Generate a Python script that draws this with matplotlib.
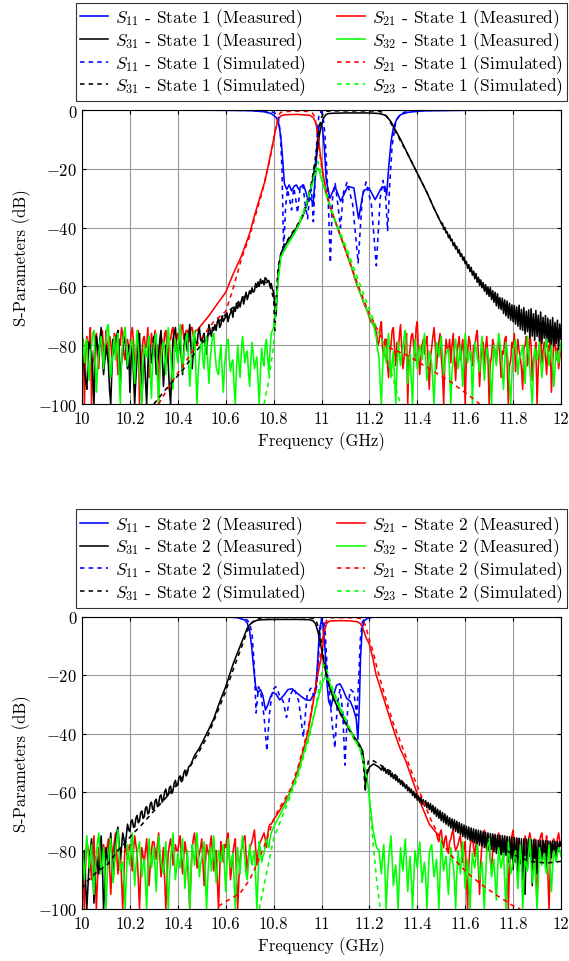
import numpy as np
import matplotlib
matplotlib.use("Agg")
import matplotlib.pyplot as plt

plt.rcParams['font.family'] = 'serif'
plt.rcParams['font.serif'] = ['cmr10']
plt.rcParams['mathtext.fontset'] = 'cm'
plt.rcParams['axes.formatter.use_mathtext'] = True
plt.rcParams['axes.unicode_minus'] = True

# ---------------- axis ticks ----------------
x_ticks = [10, 10.2, 10.4, 10.6, 10.8, 11, 11.2, 11.4, 11.6, 11.8, 12]
x_tick_labels = ['10', '10.2', '10.4', '10.6', '10.8', '11', '11.2', '11.4', '11.6', '11.8', '12']
y_ticks = [0, -20, -40, -60, -80, -100]

# ================= STATE 1 (top) =================
# S11 measured
s1_s11m_f = [10.0, 10.5, 10.7, 10.76, 10.79, 10.81, 10.82, 10.83, 10.838, 10.845, 10.855, 10.865, 10.875,
             10.885, 10.895, 10.905, 10.915, 10.925, 10.935, 10.945, 10.955, 10.965, 10.975, 10.982, 10.99,
             10.997, 11.004, 11.012, 11.02, 11.035, 11.056, 11.08, 11.11, 11.135, 11.155, 11.175, 11.198,
             11.224, 11.25, 11.265, 11.272, 11.28, 11.29, 11.3, 11.315, 11.33, 11.36, 11.42, 11.6, 12.0]
s1_s11m_db = [0, -0.05, -0.2, -0.6, -1.2, -2.5, -4, -9, -17, -25, -27, -25.5, -27.5, -26, -25.5, -27, -26,
              -25.5, -28, -31, -30, -32, -22, -12, -5.5, -4.5, -6, -13, -24, -30, -26, -31, -26, -26.5, -37,
              -27.5, -26.5, -30.5, -26.5, -26, -29, -20, -11, -6, -3, -1.6, -0.8, -0.3, -0.1, 0]
# S11 simulated
s1_s11s_f = [10.0, 10.6, 10.75, 10.79, 10.81, 10.82, 10.828, 10.835, 10.842, 10.85, 10.858, 10.866, 10.875,
             10.884, 10.892, 10.9, 10.91, 10.922, 10.932, 10.942, 10.95, 10.958, 10.966, 10.974, 10.982,
             10.99, 10.998, 11.006, 11.014, 11.022, 11.03, 11.037, 11.046, 11.057, 11.068, 11.079, 11.092,
             11.107, 11.13, 11.153, 11.17, 11.186, 11.208, 11.229, 11.245, 11.257, 11.268, 11.276, 11.285,
             11.295, 11.31, 11.33, 11.36, 11.45, 12.0]
s1_s11s_db = [0, -0.05, -0.2, -0.5, -1.2, -2.5, -8, -20, -48, -33, -27, -30, -34, -26.5, -30, -35, -27, -25.5,
              -32, -37, -29, -27, -38, -22, -8, -1, -0.5, -2, -8, -20, -35, -52, -30, -25, -32, -40, -28,
              -24.5, -32, -52, -30, -24.5, -32, -53, -30, -24, -30, -41, -25, -12, -4, -1.2, -0.4, -0.1, 0]

# S21 measured: noise floor (5 MHz steps), slope/passband, noise floor
s1_s21m_floor_lo = [-82, -78, -100, -84, -77, -80, -79, -74, -100, -86, -84, -78, -76, -81, -88, -79, -78, -75, -81, -85,
                    -75, -80, -86, -77, -79, -84, -83, -76, -77, -82, -90, -78, -80, -74, -76, -83, -85, -79, -78, -81,
                    -81, -76, -74, -79, -88, -83, -79, -75, -100, -87, -83, -78, -77, -81, -80, -74, -91, -84, -76, -79,
                    -79, -75, -84, -80, -100, -86, -77, -79, -81, -76, -75, -82, -86, -78, -78, -75, -74, -80, -82, -77,
                    -76, -80, -79, -74, -73, -78, -77, -75, -75, -79, -78, -74, -74, -77, -76, -75]
s1_s21m_f = [10.48, 10.5, 10.53, 10.56, 10.6, 10.63, 10.666, 10.7, 10.72, 10.74, 10.762, 10.78, 10.8, 10.81,
             10.82, 10.83, 10.85, 10.9, 10.95, 10.965, 10.975, 10.985, 10.995, 11.005, 11.02, 11.04, 11.06,
             11.08, 11.095, 11.11, 11.125, 11.14, 11.15, 11.165, 11.18, 11.19, 11.205, 11.22]
s1_s21m_db = [-75, -73, -70, -66.5, -62, -56, -49.6, -42, -36, -30.5, -24.7, -18, -10, -6, -3, -2, -1.6,
              -1.5, -1.8, -2.5, -4, -8, -15, -21, -28, -34, -38.5, -43, -46.5, -50, -53.5, -57.5, -60,
              -63, -66.5, -68, -72, -73]
s1_s21m_floor_hi = [-76, -80, -79, -74, -72, -81, -84, -78, -78, -86, -91, -83, -80, -75, -74, -81, -87, -79, -82, -77,
                    -73, -81, -88, -84, -79, -76, -100, -85, -81, -77, -76, -80, -85, -74, -72, -83, -90, -84, -80, -78,
                    -83, -79, -77, -86, -95, -84, -81, -77, -74, -80, -88, -82, -79, -76, -84, -89, -100, -85, -78, -81,
                    -82, -78, -86, -80, -76, -84, -92, -83, -80, -77, -85, -81, -78, -86, -100, -84, -83, -77, -79, -85,
                    -87, -80, -81, -77, -75, -83, -94, -85, -82, -79, -88, -81, -77, -84, -100, -86, -84, -78, -80, -83,
                    -86, -80, -79, -84, -91, -82, -83, -78, -77, -85, -100, -87, -85, -79, -81, -76, -89, -83, -78, -82,
                    -84, -88, -95, -81, -80, -77, -87, -83, -76, -80, -92, -85, -83, -79, -100, -88, -81, -77, -86, -82,
                    -79, -84, -90, -80, -82, -78, -96, -86, -80, -77, -85, -81, -88, -84, -82]
# S21 simulated
s1_s21s_f = [10.32, 10.36, 10.4, 10.45, 10.5, 10.55, 10.6, 10.63, 10.666, 10.7, 10.72, 10.74, 10.76, 10.78,
             10.8, 10.81, 10.82, 10.83, 10.85, 10.9, 10.95, 10.96, 10.97, 10.98, 10.99, 11.0, 11.02, 11.04,
             11.08, 11.11, 11.15, 11.19, 11.22, 11.27, 11.36, 11.45, 11.54, 11.63, 11.66]
s1_s21s_db = [-100, -94.5, -89.5, -83.5, -77.5, -72, -68.5, -61, -50.5, -43, -37, -31.5, -25.5, -18.5, -10.5,
              -5.5, -1.8, -0.8, -0.5, -0.4, -0.5, -0.8, -2, -6, -13, -19, -28, -34, -43, -50, -59, -67.5,
              -72.5, -80.5, -83.5, -88, -92.5, -98, -100]

# S31 measured: floor, hump, passband, noisy decay
s1_s31m_floor = [-76, -84, -88, -92, -95, -85, -79, -81, -82, -90, -100, -86, -77, -80, -84, -78, -74, -83, -90, -85,
                 -80, -83, -86, -95, -100, -88, -78, -81, -83, -77, -75, -82, -92, -86, -81, -79, -77, -83, -88, -80,
                 -96, -85, -80, -90, -100, -91, -84, -79, -76, -88, -99, -89, -82, -92, -100, -87, -79, -81, -86, -83,
                 -77, -82, -90, -86, -83, -78, -75, -84, -94, -87, -80, -83, -86, -95, -100, -88, -78, -76, -74, -80,
                 -85, -81, -79, -84, -90, -82, -76, -79, -82, -77, -73, -80, -88, -82, -77, -79, -80, -76, -74, -78,
                 -79, -77, -76, -80, -83, -77, -73, -75, -77, -74, -75, -73]
s1_s31m_hump = [-75, -72, -71, -74, -73, -70, -72, -71, -70.5, -69, -72, -70, -69, -68, -70.5, -67, -68.5, -66, -67.5, -65.5,
                -67, -65, -63.5, -66, -64, -62, -64.5, -63, -61.5, -62.5, -60.5, -62, -61.5, -59, -60, -58.5, -60, -57.5, -59, -58,
                -59.5, -57, -57.5, -58.5, -58, -60, -59, -61]
s1_s31m_f = [10.8, 10.805, 10.81, 10.815, 10.82, 10.83, 10.84, 10.86, 10.88, 10.9, 10.92, 10.94, 10.96,
             10.975, 10.99, 11.0, 11.01, 11.02, 11.03, 11.05, 11.1, 11.2, 11.24, 11.26, 11.27, 11.29, 11.31,
             11.33, 11.36, 11.4, 11.44, 11.47, 11.5]
s1_s31m_db = [-62, -66, -70, -62, -55, -49, -47, -44.5, -42, -39.5, -36.5, -32, -25, -18, -9, -5, -2.5, -1.5,
              -1.2, -1.1, -1.0, -1.0, -1.2, -1.6, -2, -4, -7, -10, -15, -21.5, -28, -33.5, -38.5]
s1_s31m_decay = [-38.5, -40.6, -39.9, -41.8, -41.5, -43.4, -42.5, -44.5, -44.0, -46.1, -45.2, -47.3, -46.4, -48.6, -47.5, -49.8, -48.9, -51.0, -50.0, -52.3,
                 -51.5, -53.8, -52.6, -55.0, -53.5, -56.2, -54.8, -57.4, -55.6, -58.6, -56.9, -59.7, -57.8, -60.5, -58.7, -61.6, -59.4, -62.7, -60.2, -63.4,
                 -60.4, -64.5, -61.5, -65.4, -62.0, -66.6, -62.5, -67.5, -63.8, -67.9, -64.0, -69.2, -64.6, -70.0, -65.0, -70.8, -65.7, -71.5, -66.3, -72.0,
                 -66.5, -72.8, -67.0, -73.5, -66.4, -74.6, -67.8, -75.0, -67.2, -76.2, -68.5, -75.4, -68.0, -77.5, -67.6, -76.9, -69.3, -78.4, -68.2, -77.0,
                 -69.8, -78.8, -68.7, -79.5, -70.5, -77.6, -69.9, -80.4, -70.8, -79.0, -71.4, -81.0, -70.6, -80.2, -72.3, -79.4, -71.5, -81.5, -72.8, -78.0]
# S31 simulated
s1_s31s_f = [10.3, 10.35, 10.42, 10.5, 10.56, 10.6, 10.65, 10.7, 10.75, 10.78, 10.8, 10.805, 10.81, 10.815,
             10.82, 10.83, 10.84, 10.86, 10.88, 10.9, 10.92, 10.94, 10.96, 10.975, 10.99, 11.0, 11.01, 11.02,
             11.05, 11.1, 11.2, 11.24, 11.26, 11.275, 11.29, 11.31, 11.33, 11.36, 11.4, 11.44, 11.47, 11.5,
             11.54, 11.61, 11.68, 11.75, 11.83, 11.9, 11.97, 12.0]
s1_s31s_db = [-100, -95, -88.5, -79.5, -73, -69.5, -65.5, -62, -59, -58.5, -64, -75, -66, -58, -53, -49,
              -46.5, -44, -41.5, -39, -36, -31, -24, -16, -6, -2.5, -0.8, -0.4, -0.3, -0.3, -0.3, -0.4, -1,
              -2.5, -4.5, -7.5, -10.5, -15, -21.5, -28, -33.5, -38.5, -44, -53, -60, -65.5, -70, -72, -74.5,
              -75.5]

# S32 measured
s1_s32m_floor_lo = [-74, -81, -86, -79, -78, -88, -92, -84, -80, -76, -75, -85, -96, -88, -83, -79, -77, -82, -88, -80,
                    -79, -74, -73, -84, -91, -86, -81, -77, -85, -80, -76, -90, -100, -85, -80, -76, -74, -81, -87, -83,
                    -82, -79, -78, -86, -93, -82, -75, -81, -88, -94, -100, -86, -80, -83, -84, -79, -77, -89, -98, -85,
                    -81, -77, -76, -90, -100, -89, -85, -80, -79, -84, -90, -80, -74, -79, -83, -90, -95, -84, -78, -82,
                    -86, -78, -73, -82, -89, -83, -80, -77, -76, -86, -94, -87, -82, -77, -75, -88, -100, -90, -84, -80,
                    -79, -85, -88, -80, -77, -86, -93, -85, -81, -77, -76, -82, -87, -89, -90, -84, -80, -89, -96, -87,
                    -83, -79, -78, -85, -89, -86, -85, -94, -100, -88, -80, -86, -91, -83, -77, -81, -86, -83, -82, -89,
                    -94, -85, -79, -83, -88, -86, -84, -92, -100, -89, -81, -85, -87, -80, -78, -84, -90, -82, -76, -75]
s1_s32m_f = [10.8, 10.81, 10.82, 10.83, 10.85, 10.88, 10.9, 10.93, 10.95, 10.97, 10.98, 10.985, 10.99, 11.0,
             11.02, 11.04, 11.06, 11.08, 11.1, 11.12, 11.14, 11.16, 11.18, 11.2, 11.22]
s1_s32m_db = [-74, -66, -57, -50, -47, -43, -40, -34, -28.5, -23, -20.5, -19.8, -20.5, -23.5, -29, -34,
              -38.5, -43, -47, -52, -57, -62, -66, -70, -74]
s1_s32m_floor_hi = [-78, -82, -84, -93, -100, -88, -80, -83, -86, -80, -76, -84, -91, -86, -82, -91, -100, -88, -79, -83,
                    -87, -83, -81, -77, -75, -85, -93, -88, -83, -92, -100, -86, -78, -83, -88, -83, -80, -82, -85, -80,
                    -76, -84, -92, -87, -82, -84, -86, -93, -100, -88, -79, -81, -84, -80, -77, -83, -90, -86, -83, -82,
                    -81, -90, -100, -89, -85, -81, -78, -83, -88, -84, -80, -87, -94, -84, -76, -81, -86, -84, -82, -83,
                    -100, -88, -79, -81, -84, -86, -89, -82, -77, -85, -92, -86, -81, -83, -85, -92, -100, -88, -80, -82,
                    -87, -81, -76, -79, -83, -89, -95, -86, -79, -82, -86, -93, -100, -90, -82, -80, -78, -84, -90, -85,
                    -84, -82, -80, -86, -93, -84, -77, -82, -88, -94, -100, -89, -81, -83, -85, -82, -79, -85, -91, -86,
                    -83, -80, -78, -82, -87, -83, -80, -86, -94, -88, -82, -84, -86, -82, -79]
# S23 simulated
s1_s23s_f = [10.76, 10.78, 10.8, 10.81, 10.82, 10.83, 10.86, 10.9, 10.94, 10.97, 10.985, 11.0, 11.02, 11.05,
             11.1, 11.15, 11.2, 11.25, 11.29, 11.33]
s1_s23s_db = [-100, -92, -80, -68, -57, -50, -45.5, -40, -31, -22, -17.5, -22, -28.5, -36, -46, -57, -68, -78,
              -89, -100]

# ================= STATE 2 (bottom) =================
s2_s11m_f = [10.0, 10.5, 10.6, 10.65, 10.68, 10.69, 10.7, 10.708, 10.716, 10.725, 10.735, 10.745, 10.755,
             10.766, 10.777, 10.787, 10.797, 10.81, 10.825, 10.842, 10.86, 10.877, 10.895, 10.918, 10.935,
             10.953, 10.965, 10.975, 10.985, 10.992, 11.0, 11.007, 11.014, 11.022, 11.03, 11.04, 11.05,
             11.063, 11.077, 11.09, 11.105, 11.12, 11.133, 11.145, 11.152, 11.158, 11.163, 11.17, 11.178,
             11.19, 11.21, 11.25, 11.4, 12.0]
s2_s11m_db = [0, -0.05, -0.15, -0.4, -1.2, -2.3, -5, -10, -17, -24, -26, -25, -27, -32, -30, -27.5, -26,
              -26.5, -28.5, -27, -25, -24.7, -26, -27.5, -28.5, -28.7, -27, -26, -14, -4, -1.5, -3, -10, -22,
              -29, -31, -27, -23.5, -23, -25, -28, -29, -31.5, -35, -42, -30, -14, -4, -1.5, -0.7, -0.3,
              -0.1, -0.03, 0]
s2_s11s_f = [10.0, 10.6, 10.66, 10.69, 10.7, 10.71, 10.718, 10.727, 10.737, 10.748, 10.76, 10.772, 10.783,
             10.795, 10.81, 10.825, 10.84, 10.854, 10.868, 10.885, 10.905, 10.924, 10.94, 10.955, 10.968,
             10.98, 10.99, 11.0, 11.008, 11.016, 11.025, 11.035, 11.045, 11.056, 11.066, 11.077, 11.088,
             11.098, 11.11, 11.122, 11.135, 11.147, 11.155, 11.162, 11.17, 11.18, 11.2, 11.3, 12.0]
s2_s11s_db = [0, -0.05, -0.3, -1.2, -2.5, -6, -15, -33, -24, -27, -34, -46, -33, -25, -24, -27, -29, -34.5,
              -27, -24.5, -29, -41.3, -27, -24.5, -27, -24, -10, -0.5, -1, -6, -20, -28, -37, -45, -30, -25,
              -32, -50.8, -30, -25, -26, -34, -22, -8, -2, -0.6, -0.2, -0.05, 0]

s2_s21m_floor_lo = [-84, -92, -100, -86, -77, -79, -81, -85, -90, -82, -75, -88, -100, -89, -79, -82, -86, -80, -78, -81,
                    -82, -79, -76, -85, -95, -87, -80, -77, -74, -81, -88, -83, -79, -90, -100, -88, -77, -80, -83, -79,
                    -78, -82, -87, -80, -75, -78, -81, -90, -100, -88, -79, -82, -84, -80, -76, -84, -92, -85, -80, -77,
                    -77, -80, -83, -78, -74, -82, -89, -84, -79, -90, -100, -89, -81, -78, -76, -80, -85, -81, -78, -80,
                    -80, -77, -75, -82, -88, -82, -77, -80, -83, -91, -100, -88, -79, -76, -74, -80, -86, -83, -81, -79,
                    -76, -84, -92, -85, -78, -80, -82, -78, -75, -81, -87, -83, -80, -90, -100, -87, -77, -80, -84, -78,
                    -79, -76, -74, -82, -90, -86, -81, -78, -76, -88, -100, -90, -83, -80, -78, -76, -75, -81, -88, -82,
                    -80, -78, -77, -75, -73, -79, -85, -81, -78, -77, -76, -75, -74, -76, -79, -75, -72, -71]
s2_s21m_f = [10.79, 10.8, 10.82, 10.85, 10.87, 10.9, 10.92, 10.944, 10.96, 10.972, 10.985, 11.0, 11.007,
             11.014, 11.021, 11.028, 11.04, 11.08, 11.12, 11.15, 11.163, 11.17, 11.177, 11.185, 11.2, 11.215,
             11.227, 11.25, 11.27, 11.29, 11.31, 11.33, 11.35, 11.365, 11.38, 11.395, 11.41, 11.43, 11.45, 11.47]
s2_s21m_db = [-71, -69.5, -67, -63, -60, -53, -47, -39.5, -32, -26, -19.5, -13.6, -9, -4.5, -2.5, -1.8, -1.5,
              -1.4, -1.5, -1.8, -2.5, -3.5, -5, -7, -9.5, -14.5, -19.6, -25.5, -30.8, -36, -41, -45.5, -49,
              -52.5, -56, -59.5, -63, -67, -71, -73]
s2_s21m_floor_hi = [-74, -76, -77, -74, -73, -77, -79, -76, -75, -79, -81, -77, -76, -74, -73, -78, -80, -79, -78, -76,
                    -75, -80, -84, -79, -77, -88, -100, -85, -79, -76, -74, -79, -82, -78, -76, -86, -95, -84, -78, -76,
                    -73, -77, -80, -78, -77, -83, -86, -80, -75, -77, -79, -76, -74, -79, -81, -77, -76, -79, -78, -76,
                    -100, -86, -77, -75, -73, -79, -83, -80, -76, -78, -79, -84, -90, -81, -75, -77, -78, -76, -74, -77,
                    -80, -78, -76, -88, -98, -84, -77, -75, -74, -78, -82, -79, -75, -87, -100, -86, -78, -77, -76, -78,
                    -79, -76, -74, -77, -78]
s2_s21s_f = [10.57, 10.6, 10.66, 10.7, 10.72, 10.76, 10.8, 10.82, 10.85, 10.87, 10.9, 10.92, 10.944, 10.96,
             10.972, 10.985, 11.0, 11.01, 11.02, 11.03, 11.05, 11.1, 11.15, 11.165, 11.175, 11.183, 11.19,
             11.2, 11.215, 11.23, 11.25, 11.275, 11.3, 11.33, 11.36, 11.385, 11.42, 11.454, 11.49,
             11.525, 11.56, 11.6, 11.665, 11.735, 11.8, 11.83]
s2_s21s_db = [-99, -97.5, -94.6, -90, -86.6, -78.7, -69.5, -66, -62, -59, -52, -46, -38.5, -31, -25, -18.5,
              -11, -5, -1.5, -0.6, -0.4, -0.4, -0.5, -0.8, -1.5, -3, -5, -8, -12, -17, -23, -30, -36.5,
              -43, -49.5, -55, -62, -69, -75, -80, -83.5, -87, -91.5, -95.5, -98.9, -100]

s2_s31m_floor = [-95, -88, -80, -91, -100, -92, -84, -80, -76, -86, -98, -90, -82, -85, -88, -81, -75, -84, -100, -93,
                 -79, -82, -85, -80, -74, -81, -90, -84, -77, -74, -72, -78, -83, -79, -74, -76, -79, -75]
s2_s31m_rise = [-71, -73, -73.5, -70, -69.5, -72, -72, -69, -68, -70.5, -70, -67, -66.5, -69, -68.5, -65.5, -65, -67.5, -67, -64,
                -63.5, -66, -66, -63, -62.5, -65, -64, -61.5, -61, -63.5, -62.5, -60, -59, -61.5, -61, -58.5, -58, -60.5, -59.5, -57,
                -56, -58, -57.5, -55, -54.5, -56.5, -56, -53.5, -52.5, -54.5, -53.5, -51.5, -51, -50.5]
s2_s31m_f = [10.47, 10.49, 10.527, 10.55, 10.576, 10.6, 10.632, 10.666, 10.69, 10.7, 10.715, 10.73, 10.75,
             10.8, 10.9, 10.95, 10.965, 10.975, 10.986, 10.993, 11.0, 11.01, 11.02, 11.035, 11.05, 11.077,
             11.105, 11.133, 11.16, 11.172, 11.178, 11.183, 11.19, 11.2, 11.217, 11.24]
s2_s31m_db = [-47.5, -45, -39, -35, -29, -24, -16, -9, -4, -2.8, -1.8, -1.3, -1.1, -1.0, -1.0, -1.1, -1.5,
              -2.5, -5.5, -8, -11, -15.5, -20, -24.5, -28, -32.8, -37, -40.7, -44, -46, -50, -58, -54, -51.5,
              -50.4, -51.5]
s2_s31m_decay = [-52.5, -51.2, -52.8, -51.8, -53.6, -52.4, -54.0, -53.1, -54.8, -53.5, -55.4, -54.2, -56.0, -54.9, -56.6, -55.5, -57.4, -56.2, -58.0, -57.1,
                 -58.7, -57.5, -59.6, -58.4, -60.2, -59.0, -61.2, -59.8, -62.0, -60.5, -62.8, -61.4, -63.5, -61.8, -64.2, -62.6, -64.8, -63.0, -65.4, -63.6,
                 -66.0, -64.0, -66.8, -64.6, -67.5, -65.2, -68.3, -65.9, -69.0, -66.4, -69.8, -67.0, -70.4, -67.5, -71.0, -68.2, -71.6, -68.8, -72.3, -69.2,
                 -72.8, -69.5, -73.5, -70.0, -74.0, -70.4, -74.6, -70.9, -75.2, -71.3, -75.6, -71.7, -76.1, -72.0, -76.5, -72.3, -77.0, -72.6, -77.4, -72.9,
                 -77.8, -73.1, -78.2, -73.3, -78.5, -73.6, -79.0, -73.8, -79.3, -74.0, -80.0, -74.2, -79.6, -74.3, -80.4, -74.5, -81.0, -74.7, -80.5, -74.8,
                 -81.5, -74.9, -82.5, -75.0, -81.6, -75.2, -84.0, -75.3, -82.8, -75.5, -86.5, -75.6, -84.0, -75.7, -88.0, -75.8, -84.5, -76.0, -90.0, -76.0,
                 -95.0, -76.1, -86.0, -76.2, -82.0, -76.3, -92.0, -76.4, -83.0, -76.4, -88.0, -76.5, -82.5, -76.6, -84.0, -76.6, -81.0, -76.7, -86.0, -76.7,
                 -80.5, -76.8, -82.5, -76.8, -81.0, -76.9, -83.5, -76.9, -80.0, -77.0, -78.5]
s2_s31s_f = [10.0, 10.025, 10.06, 10.108, 10.15, 10.177, 10.21, 10.246, 10.3, 10.35, 10.4, 10.45, 10.49,
             10.527, 10.576, 10.6, 10.632, 10.666, 10.69, 10.71, 10.73, 10.75, 10.8, 10.95, 10.97, 10.98,
             10.99, 11.0, 11.01, 11.02, 11.035, 11.05, 11.077, 11.105, 11.133, 11.16, 11.17, 11.177, 11.182,
             11.188, 11.195, 11.21, 11.24, 11.3, 11.35, 11.4, 11.45, 11.5, 11.55, 11.6, 11.65, 11.735, 11.8,
             11.87, 11.94, 12.0]
s2_s31s_db = [-93, -90.3, -87.5, -84.6, -80, -77.7, -74.5, -71.5, -66.5, -62, -57, -51.5, -46, -40.5, -30.5,
              -25.5, -18, -10.5, -5, -2, -0.8, -0.4, -0.3, -0.4, -0.8, -2, -4.5, -9, -14.5, -20, -24.5, -28,
              -33, -37.5, -41, -44.5, -47, -52, -60, -55, -49.5, -49, -50.5, -53.5, -57.5, -62, -65, -68.5,
              -71, -73, -75, -78, -81.4, -83.7, -84.3, -83.7]

s2_s32m_floor_lo = [-80, -84, -90, -82, -75, -80, -86, -82, -78, -88, -95, -86, -82, -77, -74, -81, -88, -84, -79, -85,
                    -100, -90, -83, -79, -76, -84, -91, -86, -80, -76, -73, -80, -87, -85, -84, -90, -100, -89, -78, -82,
                    -85, -79, -74, -83, -92, -86, -81, -79, -77, -83, -89, -85, -83, -91, -100, -88, -76, -81, -86, -83,
                    -79, -86, -94, -84, -75, -80, -84, -86, -88, -82, -77, -89, -100, -90, -82, -79, -74, -82, -90, -86,
                    -81, -84, -86, -80, -76, -85, -93, -86, -80, -88, -100, -89, -78, -81, -85, -80, -74, -81, -89, -85,
                    -83, -80, -77, -88, -100, -90, -82, -79, -87, -83, -75, -82, -91, -86, -80, -82, -84, -81, -78, -86,
                    -94, -85, -76, -81, -86, -83, -81, -90, -100, -88, -79, -84, -88, -81, -75, -79, -83, -88, -90, -84,
                    -78, -82, -85, -82, -80, -89, -100, -90, -77, -80, -84, -82, -81, -78, -76, -78, -79, -76]
s2_s32m_f = [10.79, 10.8, 10.85, 10.9, 10.95, 10.98, 11.0, 11.015, 11.03, 11.05, 11.09, 11.133, 11.16,
             11.175, 11.19, 11.2, 11.215, 11.23]
s2_s32m_db = [-74, -72, -64, -54, -40, -30, -23.5, -20.5, -22, -26.5, -33.5, -41.5, -45, -50, -55, -62, -73,
              -79]
s2_s32m_floor_hi = [-80, -84, -88, -82, -78, -88, -100, -90, -83, -79, -75, -83, -92, -88, -85, -91, -100, -89, -79, -84,
                    -87, -81, -76, -85, -94, -87, -82, -90, -100, -90, -80, -83, -86, -81, -77, -84, -91, -87, -84, -89,
                    -100, -90, -81, -79, -78, -84, -89, -86, -83, -90, -100, -88, -76, -82, -87, -84, -82, -89, -95, -86,
                    -79, -83, -85, -90, -100, -88, -80, -84, -88, -82, -77, -85, -93, -87, -83, -91, -100, -89, -81, -84,
                    -86, -82, -78, -84, -90, -86, -84, -92, -100, -89, -80, -78, -76, -83, -89, -86, -83, -90, -97, -87,
                    -79, -83, -86, -83, -81, -90, -100, -88, -77, -82, -88, -86, -84, -82, -80, -86, -93, -85, -78, -84,
                    -100, -90, -82, -85, -87, -81, -76, -83, -91, -87, -83, -91, -100, -89, -79, -82, -85, -83, -81, -86,
                    -88, -83, -78, -86, -94, -86, -80, -82, -84, -81, -79, -80, -82]
s2_s23s_f = [10.74, 10.77, 10.8, 10.85, 10.9, 10.95, 10.98, 11.0, 11.01, 11.02, 11.03, 11.05, 11.09, 11.133,
             11.16, 11.175, 11.19, 11.2, 11.215, 11.23, 11.245]
s2_s23s_db = [-100, -88, -76, -65.5, -55, -41, -29, -20, -16.5, -17.5, -20.5, -25.5, -33, -41, -45, -49.5,
              -56, -63, -77, -90, -100]


def steps(f0, vals):
    # noisy stretches of the measured traces are read at a 5 MHz spacing
    return np.round(f0 + 0.005 * np.arange(len(vals)), 4)


def join(*parts):
    f = np.concatenate([np.asarray(p[0], float) for p in parts])
    d = np.concatenate([np.asarray(p[1], float) for p in parts])
    return f, d


top = {
    's11m': (np.array(s1_s11m_f), np.array(s1_s11m_db)),
    's21m': join((steps(10.0, s1_s21m_floor_lo), s1_s21m_floor_lo), (s1_s21m_f, s1_s21m_db),
                 (steps(11.23, s1_s21m_floor_hi), s1_s21m_floor_hi)),
    's31m': join((steps(10.0, s1_s31m_floor), s1_s31m_floor), (steps(10.56, s1_s31m_hump), s1_s31m_hump),
                 (s1_s31m_f, s1_s31m_db), (steps(11.505, s1_s31m_decay), s1_s31m_decay)),
    's32m': join((steps(10.0, s1_s32m_floor_lo), s1_s32m_floor_lo), (s1_s32m_f, s1_s32m_db),
                 (steps(11.23, s1_s32m_floor_hi), s1_s32m_floor_hi)),
    's11s': (np.array(s1_s11s_f), np.array(s1_s11s_db)),
    's21s': (np.array(s1_s21s_f), np.array(s1_s21s_db)),
    's31s': (np.array(s1_s31s_f), np.array(s1_s31s_db)),
    's23s': (np.array(s1_s23s_f), np.array(s1_s23s_db)),
}
bottom = {
    's11m': (np.array(s2_s11m_f), np.array(s2_s11m_db)),
    's21m': join((steps(10.0, s2_s21m_floor_lo), s2_s21m_floor_lo), (s2_s21m_f, s2_s21m_db),
                 (steps(11.48, s2_s21m_floor_hi), s2_s21m_floor_hi)),
    's31m': join((steps(10.0, s2_s31m_floor), s2_s31m_floor), (steps(10.19, s2_s31m_rise), s2_s31m_rise),
                 (s2_s31m_f, s2_s31m_db), (steps(11.25, s2_s31m_decay), s2_s31m_decay)),
    's32m': join((steps(10.0, s2_s32m_floor_lo), s2_s32m_floor_lo), (s2_s32m_f, s2_s32m_db),
                 (steps(11.24, s2_s32m_floor_hi), s2_s32m_floor_hi)),
    's11s': (np.array(s2_s11s_f), np.array(s2_s11s_db)),
    's21s': (np.array(s2_s21s_f), np.array(s2_s21s_db)),
    's31s': (np.array(s2_s31s_f), np.array(s2_s31s_db)),
    's23s': (np.array(s2_s23s_f), np.array(s2_s23s_db)),
}

blue, red, black, green = '#0000ff', '#ff0000', '#000000', '#00ff00'
dash = (0, (2.8, 2.6))
lw = 1.15
fs = 12
fs_leg = 12.5


def draw(ax, d, state):
    h = {}
    h['s11m'], = ax.plot(*d['s11m'], color=blue, lw=lw, label=r'$S_{11}$ - State %d (Measured)' % state)
    h['s21m'], = ax.plot(*d['s21m'], color=red, lw=lw, label=r'$S_{21}$ - State %d (Measured)' % state)
    h['s31m'], = ax.plot(*d['s31m'], color=black, lw=lw, label=r'$S_{31}$ - State %d (Measured)' % state)
    h['s32m'], = ax.plot(*d['s32m'], color=green, lw=lw, label=r'$S_{32}$ - State %d (Measured)' % state)
    h['s11s'], = ax.plot(*d['s11s'], color=blue, lw=lw, ls=dash, label=r'$S_{11}$ - State %d (Simulated)' % state)
    h['s21s'], = ax.plot(*d['s21s'], color=red, lw=lw, ls=dash, label=r'$S_{21}$ - State %d (Simulated)' % state)
    h['s31s'], = ax.plot(*d['s31s'], color=black, lw=lw, ls=dash, label=r'$S_{31}$ - State %d (Simulated)' % state)
    h['s23s'], = ax.plot(*d['s23s'], color=green, lw=lw, ls=dash, label=r'$S_{23}$ - State %d (Simulated)' % state)

    ax.set_xlim(10, 12)
    ax.set_ylim(-100, 0)
    ax.set_xticks(x_ticks)
    ax.set_xticklabels(x_tick_labels)
    ax.set_yticks(y_ticks)
    ax.grid(True, color='0.6', lw=0.8)
    ax.set_axisbelow(True)
    ax.tick_params(direction='in', top=True, right=True, labelsize=fs, length=3)
    ax.tick_params(axis='x', pad=4.5)
    ax.tick_params(axis='y', pad=3.5)
    ax.set_xlabel('Frequency (GHz)', fontsize=fs, labelpad=4)
    ax.set_ylabel('S-Parameters (dB)', fontsize=fs, labelpad=5)

    order = ['s11m', 's31m', 's11s', 's31s', 's21m', 's32m', 's21s', 's23s']
    leg = ax.legend([h[k] for k in order], [h[k].get_label() for k in order], ncol=2,
                    loc='lower center', bbox_to_anchor=(0.5, 1.03), borderaxespad=0,
                    fontsize=fs_leg, frameon=True, fancybox=False, framealpha=1, edgecolor='0.2',
                    handlelength=1.6, handletextpad=0.4, columnspacing=1.8, labelspacing=0.0,
                    borderpad=0.22)
    leg.get_frame().set_linewidth(0.8)


fig = plt.figure(figsize=(5.69, 9.62), dpi=100)
ax1 = fig.add_axes([82 / 569, 1 - 405 / 962, 479 / 569, 294 / 962])
ax2 = fig.add_axes([82 / 569, 1 - 910 / 962, 479 / 569, 292.5 / 962])
draw(ax1, top, 1)
draw(ax2, bottom, 2)

fig.savefig('out.png', dpi=100)
